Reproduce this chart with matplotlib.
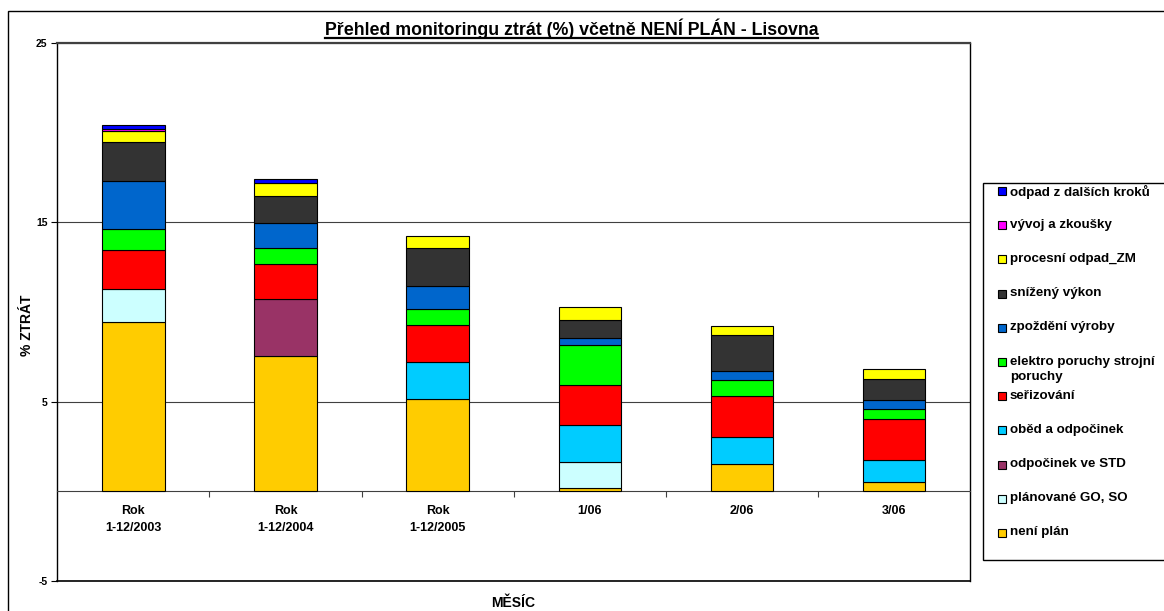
import matplotlib.pyplot as plt
from matplotlib.patches import Rectangle
from matplotlib.lines import Line2D

plt.rcParams['font.family'] = ['Liberation Sans', 'DejaVu Sans']
plt.rcParams['font.weight'] = 'bold'
plt.rcParams['axes.unicode_minus'] = False

W, H = 1164, 611

mesice = ['Rok\n1-12/2003', 'Rok\n1-12/2004', 'Rok\n1-12/2005', '1/06', '2/06', '3/06']

# ztraty v % (od spodu sloupce nahoru)
neni_plan = [9.45, 7.56, 5.13, 0.18, 1.51, 0.49]
planovane_go_so = [1.80, 0, 0, 1.44, 0, 0]
odpocinek_std = [0, 3.13, 0, 0, 0, 0]
obed_odpocinek = [0, 0, 2.09, 2.10, 1.52, 1.23]
serizovani = [2.18, 1.95, 2.06, 2.20, 2.30, 2.33]
elektro_poruchy = [1.21, 0.92, 0.87, 2.23, 0.87, 0.56]
zpozdeni_vyroby = [2.65, 1.40, 1.30, 0.41, 0.50, 0.50]
snizeny_vykon = [2.15, 1.50, 2.11, 0.98, 1.99, 1.15]
procesni_odpad = [0.63, 0.70, 0.65, 0.74, 0.51, 0.55]
vyvoj_zkousky = [0.12, 0, 0, 0, 0, 0]
odpad_kroky = [0.24, 0.26, 0, 0, 0, 0]

serie = [
    ('není plán', neni_plan, '#FFCC00'),
    ('plánované GO, SO', planovane_go_so, '#CCFFFF'),
    ('odpočinek ve STD', odpocinek_std, '#993366'),
    ('oběd a odpočinek', obed_odpocinek, '#00CCFF'),
    ('seřizování', serizovani, '#FF0000'),
    ('elektro poruchy strojní\nporuchy', elektro_poruchy, '#00FF00'),
    ('zpoždění výroby', zpozdeni_vyroby, '#0066CC'),
    ('snížený výkon', snizeny_vykon, '#333333'),
    ('procesní odpad_ZM', procesni_odpad, '#FFFF00'),
    ('vývoj a zkoušky', vyvoj_zkousky, '#FF00FF'),
    ('odpad z dalších kroků', odpad_kroky, '#0000FF'),
]

fig = plt.figure(figsize=(W / 100, H / 100), dpi=100)
ax = fig.add_axes([57.3 / W, 1 - 581 / H, (970 - 57.3) / W, (581 - 42.7) / H])

x = list(range(len(mesice)))
spodek = [0.0] * len(mesice)
for nazev, hodnoty, barva in serie:
    for i, v in enumerate(hodnoty):
        if v > 0:
            ax.bar(i, v, bottom=spodek[i], width=0.41, color=barva,
                   edgecolor='black', linewidth=0.8, zorder=3)
            spodek[i] += v

ax.set_xlim(-0.5, 5.5)
ax.set_ylim(-5, 25)
ax.set_yticks([-5, 5, 15, 25])
ax.tick_params(axis='y', length=4, width=0.8, labelsize=7.5, pad=3)
ax.yaxis.grid(True, color='#404040', linewidth=0.8, zorder=0)

# kategoriova osa na nule
ax.spines['bottom'].set_position(('data', 0))
ax.spines['bottom'].set_color('#404040')
ax.set_xticks(x)
ax.set_xticklabels(mesice, fontsize=9, linespacing=1.5)
ax.set_xticks([0.5, 1.5, 2.5, 3.5, 4.5], minor=True)
ax.tick_params(axis='x', which='major', length=0, pad=10)
ax.tick_params(axis='x', which='minor', length=4, width=0.8, color='#404040')
ax.spines['top'].set_color('#404040')
ax.spines['top'].set_linewidth(1.6)
ax.axhline(-5, color='black', linewidth=1.2, clip_on=False, zorder=4)
for s in ['left', 'right']:
    ax.spines[s].set_color('black')
    ax.spines[s].set_linewidth(1.0)

# ramecek celeho grafu
fig.patches.append(Rectangle((8 / W, -0.1), 1.2, 1 - 11 / H + 0.1,
                             transform=fig.transFigure, fill=False,
                             edgecolor='black', linewidth=1.0))

titulek = fig.text(571.5 / W, 1 - 28.5 / H,
                   'Přehled monitoringu ztrát (%) včetně NENÍ PLÁN - Lisovna',
                   ha='center', va='center', fontsize=12.8, fontweight='bold')
fig.text(27 / W, 1 - 325 / H, '% ZTRÁT', rotation=90, ha='center', va='center',
         fontsize=10, fontweight='bold')
fig.text(513 / W, 1 - 603 / H, 'MĚSÍC', ha='center', va='center',
         fontsize=10, fontweight='bold')

# legenda
fig.patches.append(Rectangle((982.5 / W, 1 - 560 / H), 200 / W, (560 - 182.7) / H,
                             transform=fig.transFigure, facecolor='white',
                             edgecolor='black', linewidth=1.0))
for k, (nazev, hodnoty, barva) in enumerate(reversed(serie)):
    yc = 191 + 34.2 * k
    fig.patches.append(Rectangle((998 / W, 1 - (yc + 4) / H), 8 / W, 8 / H,
                                 transform=fig.transFigure, facecolor=barva,
                                 edgecolor='black', linewidth=0.8))
    fig.text(1010 / W, 1 - (yc - 6.5) / H, nazev, ha='left', va='top',
             fontsize=9.6, fontweight='bold', linespacing=1.35)

# podtrzeni titulku
fig.canvas.draw()
bb = titulek.get_window_extent(fig.canvas.get_renderer())
bb = bb.transformed(fig.transFigure.inverted())
fig.lines.append(Line2D([bb.x0, bb.x1], [1 - 38 / H, 1 - 38 / H],
                        transform=fig.transFigure, color='black', linewidth=1.6))

fig.savefig('out.png', dpi=100)
